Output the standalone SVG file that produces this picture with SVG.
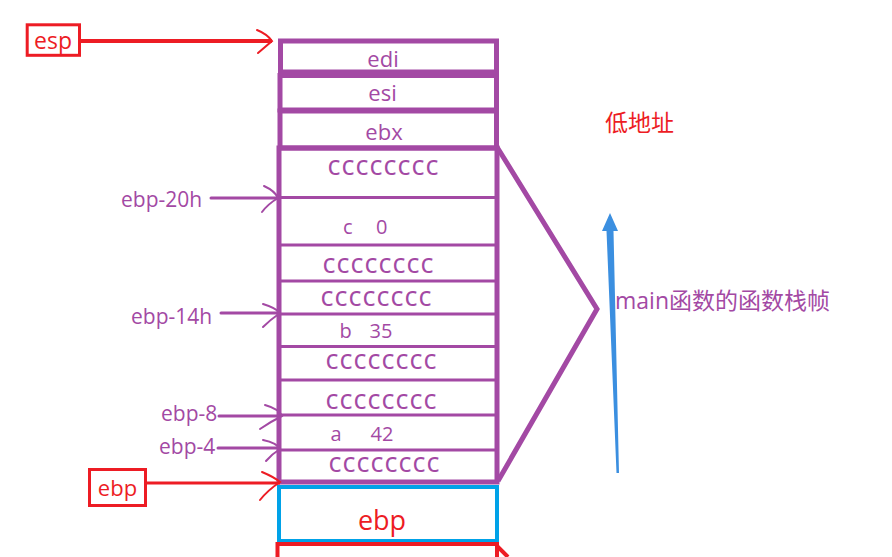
<svg xmlns="http://www.w3.org/2000/svg" width="892" height="557" viewBox="0 0 892 557">
<style>
text{font-family:"Open Sans","Noto Sans CJK SC",sans-serif}
.p{fill:#a349a4}
.r{fill:#ed1c24}
.box{fill:none;stroke:#a349a4;stroke-width:5}
.div{stroke:#a349a4;stroke-width:3}
.pl{fill:none;stroke:#a349a4;stroke-width:3;stroke-linecap:round}
.ph{fill:none;stroke:#a349a4;stroke-width:2;stroke-linecap:round}
.rl{fill:none;stroke:#ed1c24;stroke-width:4}
.rh{fill:none;stroke:#ed1c24;stroke-width:2;stroke-linecap:round}
.cc{font-size:27px;text-anchor:middle}
.reg{font-size:22px;text-anchor:middle}
.lab{font-size:21px}
.v{font-size:20px}
</style>
<rect width="892" height="557" fill="#ffffff"/>
<g id="esp">
<rect x="27.2" y="24.8" width="52.3" height="30.5" fill="none" stroke="#ed1c24" stroke-width="3"/>
<text class="r" x="53" y="48.5" font-size="23" text-anchor="middle">esp</text>
</g>
<g id="edi">
<rect class="box" x="280.5" y="41" width="216" height="31"/>
<text class="p reg" x="383" y="67">edi</text>
</g>
<g id="esi">
<rect class="box" x="280" y="75.5" width="216.5" height="34.5"/>
<text class="p reg" x="382.5" y="101">esi</text>
</g>
<g id="ebx">
<rect class="box" x="280" y="111" width="216.5" height="37"/>
<text class="p reg" x="384" y="140">ebx</text>
</g>
<g id="frame">
<rect class="box" x="279" y="148" width="218" height="334"/>
<line class="div" x1="279" y1="197.5" x2="497" y2="197.5" stroke-width="2.5"/>
<line class="div" x1="279" y1="245" x2="497" y2="245" stroke-width="4"/>
<line class="div" x1="279" y1="281" x2="497" y2="281"/>
<line class="div" x1="279" y1="314" x2="497" y2="314"/>
<line class="div" x1="279" y1="346.5" x2="497" y2="346.5"/>
<line class="div" x1="279" y1="380" x2="497" y2="380"/>
<line class="div" x1="279" y1="415" x2="497" y2="415" stroke-width="2"/>
<line class="div" x1="279" y1="450" x2="497" y2="450" stroke-width="1.2"/>
<text class="p cc" x="383" y="175" textLength="111" lengthAdjust="spacing">cccccccc</text>
<text class="p v" x="343" y="234">c<tspan x="376">0</tspan></text>
<text class="p cc" x="378" y="273" textLength="111" lengthAdjust="spacing">cccccccc</text>
<text class="p cc" x="376" y="306" textLength="111" lengthAdjust="spacing">cccccccc</text>
<text class="p v" x="339.5" y="338">b<tspan x="369.5">35</tspan></text>
<text class="p cc" x="381" y="369" textLength="111" lengthAdjust="spacing">cccccccc</text>
<text class="p cc" x="381" y="409" textLength="111" lengthAdjust="spacing">cccccccc</text>
<text class="p v" x="330.5" y="441">a<tspan x="370.5">42</tspan></text>
<text class="p cc" x="384" y="472" textLength="111" lengthAdjust="spacing">cccccccc</text>
</g>
<g id="saved-ebp">
<rect x="279" y="487" width="218" height="54" fill="none" stroke="#00a2e8" stroke-width="4"/>
<text class="r" x="382" y="530" font-size="27" text-anchor="middle">ebp</text>
</g>
<g id="next-frame">
<path d="M277.5,557 V544 H497 V557 M497,546 L508,557" fill="none" stroke="#ed1c24" stroke-width="4"/>
</g>
<g id="ebp-box">
<rect x="89.5" y="469.5" width="56" height="36" fill="none" stroke="#ed1c24" stroke-width="3"/>
<text class="r" x="117.5" y="496" font-size="22" text-anchor="middle">ebp</text>
</g>
<g id="labels">
<text class="p lab" x="121" y="207">ebp-20h</text>
<text class="p lab" x="131" y="324">ebp-14h</text>
<text class="p lab" x="161" y="421">ebp-8</text>
<text class="p lab" x="159" y="454">ebp-4</text>
<text class="r" x="605" y="131" font-size="23">低地址</text>
<text class="p" x="615" y="309" font-size="23">main函数的函数栈帧</text>
</g>
<g id="connectors">
<line class="rl" x1="81" y1="41" x2="272" y2="41"/>
<path class="rh" d="M257,30 Q267,34 272,41 Q265,47 258,53"/>
<line class="pl" x1="211" y1="198" x2="277" y2="198"/>
<path class="ph" d="M264,186 Q275,191 278,198 Q268,204 262,212"/>
<line class="pl" x1="221" y1="313" x2="279" y2="313"/>
<path class="ph" d="M263,304 Q276,308 280,313 Q270,320 263,327"/>
<line class="pl" x1="219" y1="416" x2="280" y2="416"/>
<path class="ph" d="M265,405 Q279,409 282,416 Q270,422 260,429"/>
<line class="pl" x1="218" y1="448" x2="279" y2="448"/>
<path class="ph" d="M263,440 Q277,443 280,449 Q272,454 266,461"/>
<line x1="146" y1="483" x2="280" y2="483" stroke="#ed1c24" stroke-width="3"/>
<path class="rh" d="M262,472 Q274,477 280,482 Q268,490 260,500"/>
<polyline points="497,147 597,309 498,481" fill="none" stroke="#a349a4" stroke-width="5" stroke-linejoin="miter"/>
<polygon points="610,213 602,231 606.5,231 616.5,473 619,473 613.5,231 618,231" fill="#3b8fe0"/>
</g>
</svg>
